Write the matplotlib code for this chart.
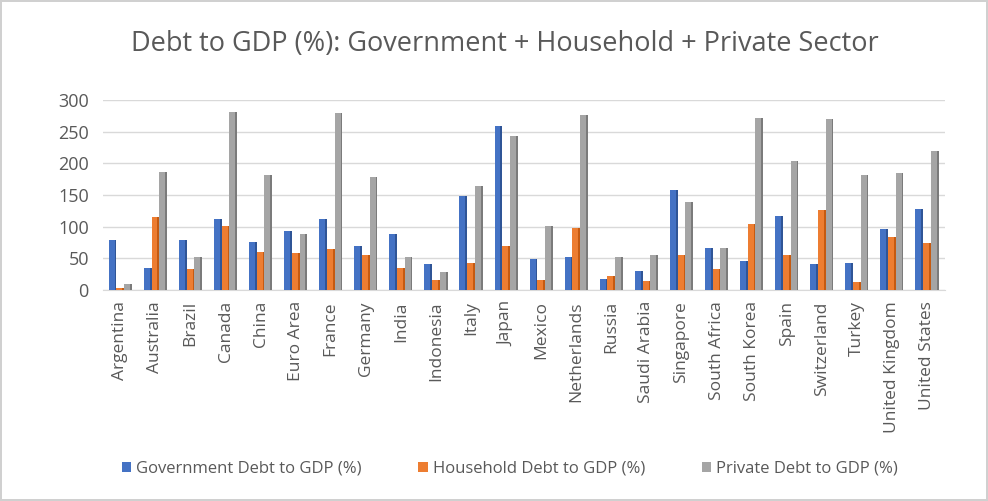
import matplotlib.pyplot as plt
import numpy as np

countries = ['Argentina', 'Australia', 'Brazil', 'Canada', 'China', 'Euro Area', 'France',
             'Germany', 'India', 'Indonesia', 'Italy', 'Japan', 'Mexico', 'Netherlands',
             'Russia', 'Saudi Arabia', 'Singapore', 'South Africa', 'South Korea', 'Spain',
             'Switzerland', 'Turkey', 'United Kingdom', 'United States']
gov_debt = [79, 35, 79, 112, 76, 94, 112, 69, 89, 41, 149, 259, 49, 53, 18, 30, 158,
            67, 46, 117, 41, 42, 97, 128]
household_debt = [4, 115, 33, 102, 60, 58, 65, 56, 35, 16, 43, 69, 16, 98, 22, 14, 56,
                  34, 105, 56, 127, 13, 84, 75]
private_debt = [10, 187, 52, 281, 182, 89, 279, 179, 52, 29, 164, 243, 101, 277, 53, 55, 139,
                67, 272, 204, 270, 182, 185, 220]

plt.rcParams['font.family'] = ['Open Sans', 'DejaVu Sans']
text_color = '#595959'

fig = plt.figure(figsize=(9.88, 5.01), dpi=100)
fig.patch.set_edgecolor('#d0d0d0')
fig.patch.set_linewidth(1.5)
ax = fig.add_axes([0.104, 0.421, 0.852, 0.379])

idx = np.arange(len(countries))
bar_width = 0.22
side = 0.05
series = [(gov_debt, '#4472C4', '#2f5597', 'Government Debt to GDP (%)'),
          (household_debt, '#ED7D31', '#c55a11', 'Household Debt to GDP (%)'),
          (private_debt, '#A5A5A5', '#7b7b7b', 'Private Debt to GDP (%)')]
for k, (vals, col, dark, lab) in enumerate(series):
    pos = idx + (k - 1) * bar_width
    ax.bar(pos - side / 2, vals, width=bar_width - side, color=col, label=lab, zorder=3)
    ax.bar(pos + (bar_width - side) / 2, vals, width=side, color=dark, zorder=3)

ax.set_xlim(-0.5, len(countries) - 0.5)
ax.set_ylim(0, 300)
ax.set_yticks(range(0, 301, 50))
ax.yaxis.grid(True, color='#d9d9d9', linewidth=1, zorder=0)
ax.set_xticks(idx)
ax.set_xticklabels(countries, rotation=90, fontsize=12.5, color=text_color)
ax.tick_params(axis='y', labelsize=13, labelcolor=text_color, length=0, pad=10)
ax.tick_params(axis='x', length=0, pad=8)
for s in ['top', 'right', 'left']:
    ax.spines[s].set_visible(False)
ax.spines['bottom'].set_color('#d9d9d9')

fig.suptitle('Debt to GDP (%): Government + Household + Private Sector',
             fontsize=19.5, color=text_color, x=0.511, y=0.94)

handles, labels = ax.get_legend_handles_labels()
fig.legend(handles, labels, loc='center', bbox_to_anchor=(0.516, 0.065), ncol=3,
           frameon=False, fontsize=12, labelcolor=text_color, handlelength=0.55,
           handleheight=0.55, handletextpad=0.3, columnspacing=3.4)

fig.savefig('out.png', dpi=100)
